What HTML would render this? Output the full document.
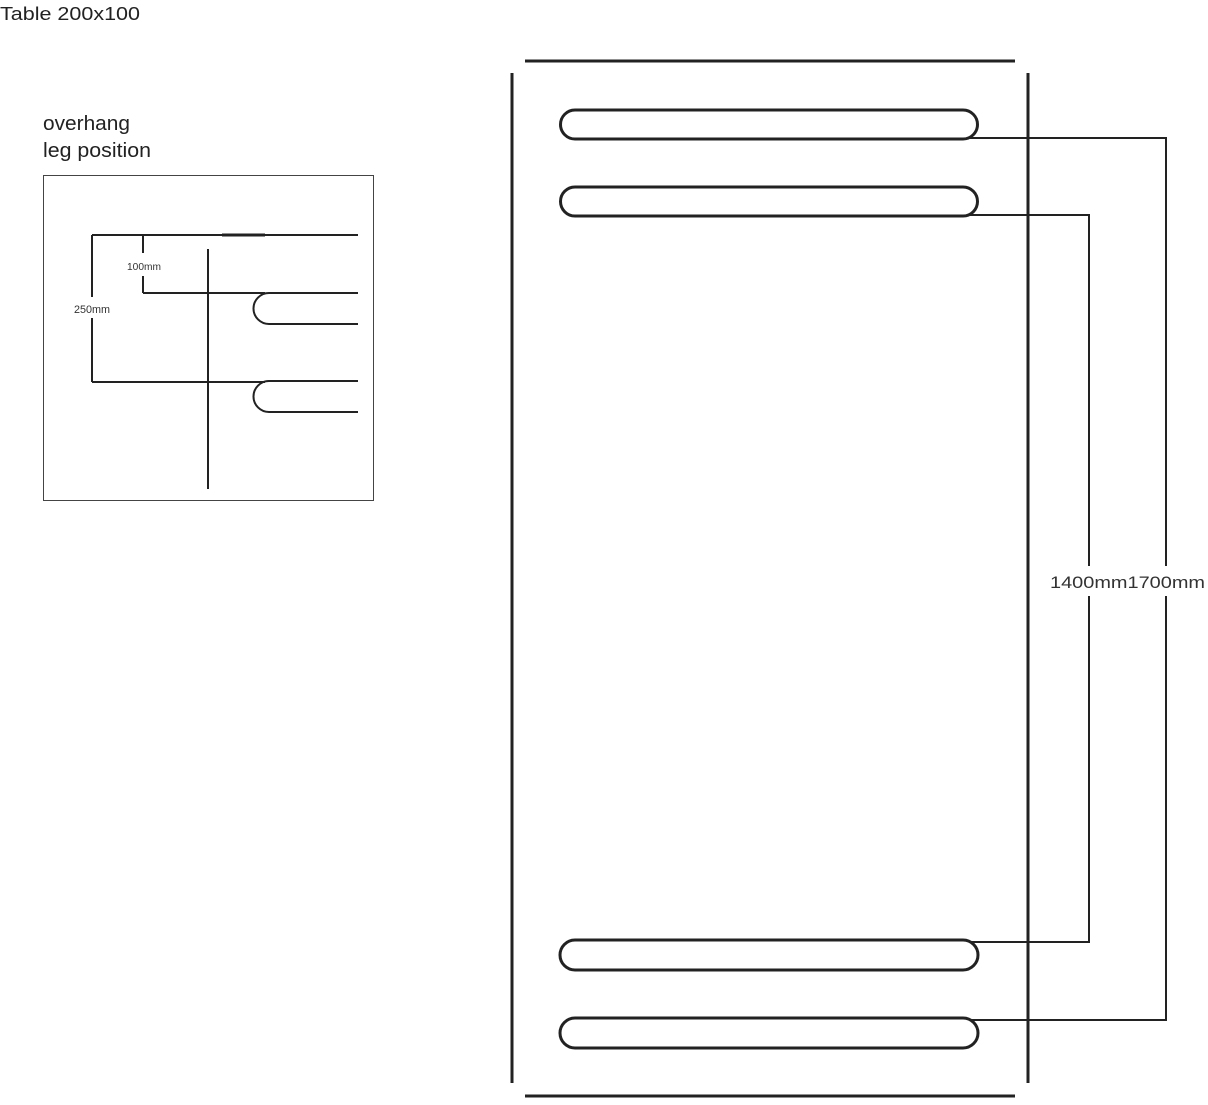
<!DOCTYPE html>
<html><head><style>
body{margin:0;width:1208px;height:1100px;background:#fff;overflow:hidden;font-family:"Liberation Sans",sans-serif;}
</style></head><body>
<svg width="1208" height="1100" xmlns="http://www.w3.org/2000/svg">
<text x="0" y="20" font-size="18" fill="#222" font-family="Liberation Sans" textLength="140" lengthAdjust="spacingAndGlyphs">Table 200x100</text>
<text x="43" y="130" font-size="20" fill="#222" font-family="Liberation Sans" textLength="87" lengthAdjust="spacingAndGlyphs">overhang</text>
<text x="43" y="157" font-size="20" fill="#222" font-family="Liberation Sans" textLength="108" lengthAdjust="spacingAndGlyphs">leg position</text>
<rect x="43.5" y="175.5" width="330" height="325" fill="none" stroke="#444" stroke-width="1"/>
<g stroke="#222" stroke-width="2" fill="none">
<line x1="92" y1="235" x2="358" y2="235"/>
<line x1="222" y1="235" x2="265" y2="235" stroke-width="3"/>
<line x1="208" y1="249" x2="208" y2="489"/>
<line x1="92" y1="235" x2="92" y2="297"/>
<line x1="92" y1="318" x2="92" y2="382"/>
<line x1="143" y1="235" x2="143" y2="253"/>
<line x1="143" y1="276" x2="143" y2="293"/>
<line x1="143" y1="293" x2="265" y2="293"/>
<line x1="92" y1="382" x2="265" y2="382"/>
<path d="M358 293 H269 A15.5 15.5 0 0 0 269 324 H358"/>
<path d="M358 381 H269 A15.5 15.5 0 0 0 269 412 H358"/>
</g>
<text x="127" y="270" font-size="10" fill="#333" textLength="34" lengthAdjust="spacingAndGlyphs">100mm</text>
<text x="74" y="313" font-size="11" fill="#333" textLength="36" lengthAdjust="spacingAndGlyphs">250mm</text>
<g stroke="#222" stroke-width="3" fill="none">
<line x1="525" y1="61" x2="1015" y2="61"/>
<line x1="525" y1="1096" x2="1015" y2="1096"/>
<line x1="512" y1="73" x2="512" y2="1083"/>
<line x1="1028" y1="73" x2="1028" y2="1083"/>
<path d="M575 110 H963 A14.5 14.5 0 0 1 963 139 H575 A14.5 14.5 0 0 1 575 110Z"/>
<path d="M575 187 H963 A14.5 14.5 0 0 1 963 216 H575 A14.5 14.5 0 0 1 575 187Z"/>
<path d="M575 940 H963 A14.5 14.5 0 0 1 963 970 H575 A14.5 14.5 0 0 1 575 940Z"/>
<path d="M575 1018 H963 A14.5 14.5 0 0 1 963 1048 H575 A14.5 14.5 0 0 1 575 1018Z"/>
</g>
<g stroke="#222" stroke-width="2" fill="none">
<path d="M968 138 H1166 V1020 H970"/>
<path d="M970 215 H1089 V942 H970"/>
</g>
<rect x="1048" y="566" width="160" height="30" fill="#fff"/>
<text x="1050" y="588" font-size="17" fill="#333" textLength="155" lengthAdjust="spacingAndGlyphs">1400mm1700mm</text>
</svg>
</body></html>
